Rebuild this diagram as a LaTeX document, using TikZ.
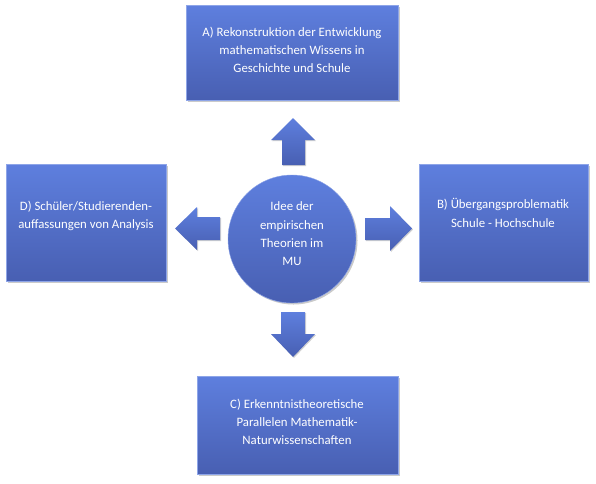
\documentclass[tikz,border=0pt]{standalone}
\usepackage{fontspec}
\setmainfont{Carlito}
\usetikzlibrary{shadows}
\definecolor{btop}{RGB}{94,127,222}
\definecolor{bbot}{RGB}{72,95,178}
\tikzset{
  shade box/.style={top color=btop, bottom color=bbot, draw=btop!70!white, line width=0.4pt,
    drop shadow={shadow xshift=1.5pt, shadow yshift=-1.5pt, opacity=0.35, fill=black!60}},
  boxtext/.style={text=white, font=\fontsize{12.8}{18.3}\selectfont, align=center},
  blockarrow/.style={top color=btop, bottom color=bbot, draw=none,
    drop shadow={shadow xshift=1pt, shadow yshift=-1pt, opacity=0.3, fill=black!60}}
}
\begin{document}
\begin{tikzpicture}[x=1pt,y=-1pt]
\useasboundingbox (0,0) rectangle (596,483);
% boxes
\path[shade box] (186,5) rectangle (398,100);
\node[boxtext] (A) at (292,50) {A) Rekonstruktion der Entwicklung\\mathematischen Wissens in\\Geschichte und Schule};
\path[shade box] (6,164) rectangle (166,281);
\node[boxtext] (D) at (86,216) {D) Schüler/Studierenden-\\auffassungen von Analysis};
\path[shade box] (419,164) rectangle (588,281);
\node[boxtext] (B) at (503,213) {B) Übergangsproblematik\\Schule - Hochschule};
\path[shade box] (197,376) rectangle (398,474);
\node[boxtext] (C) at (297,422) {C) Erkenntnistheoretische\\Parallelen Mathematik-\\Naturwissenschaften};
% circle
\node[circle, minimum size=128pt, shade box, draw=btop!70!white] (M) at (292,239) {};
\node[boxtext] (Mt) at (292,234) {Idee der\\empirischen\\Theorien im\\MU};
% block arrows
\path[blockarrow] (282,165) -- (282,140) -- (271,140) -- (293,118) -- (315,140) -- (305,140) -- (305,165) -- cycle;
\path[blockarrow] (220,217) -- (197,217) -- (197,207) -- (175,228.5) -- (197,250) -- (197,240) -- (220,240) -- cycle;
\path[blockarrow] (365,218) -- (390,218) -- (390,206) -- (412,228.5) -- (390,251) -- (390,240) -- (365,240) -- cycle;
\path[blockarrow] (281,312) -- (305,312) -- (305,334) -- (315,334) -- (293,357) -- (271,334) -- (281,334) -- cycle;
\end{tikzpicture}
\end{document}
